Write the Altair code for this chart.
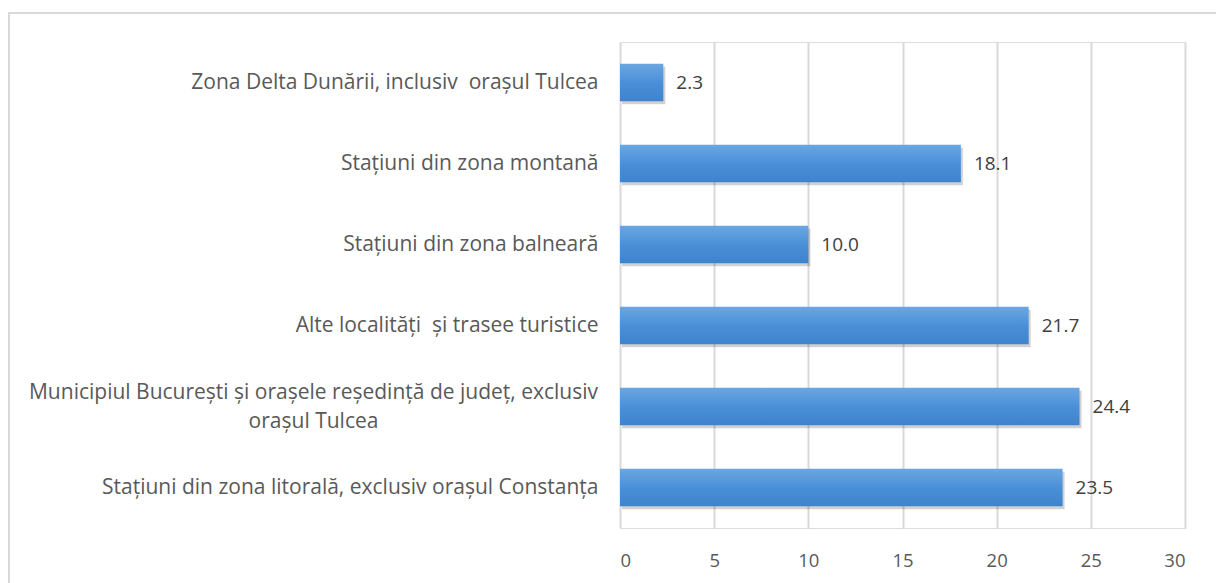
import altair as alt
import pandas as pd

categories = [
    "Zona Delta Dunării, inclusiv\u00a0 orașul Tulcea",
    "Stațiuni din zona montană",
    "Stațiuni din zona balneară",
    "Alte localități\u00a0 și trasee turistice",
    "Municipiul București și orașele reședință de județ, exclusiv|orașul Tulcea",
    "Stațiuni din zona litorală, exclusiv orașul Constanța",
]
values = [2.3, 18.1, 10.0, 21.7, 24.4, 23.5]
x_ticks = [0, 5, 10, 15, 20, 25, 30]

df = pd.DataFrame({"cat": categories, "val": values})
df["lbl"] = df["val"].map(lambda v: f"{v:.1f}")

FONT = "Open Sans"
W, H = 565, 486
MULTI = "indexof(datum.value, '|') >= 0"

y_enc = alt.Y("cat:N", sort=categories, title=None,
              scale=alt.Scale(paddingInner=0.54, paddingOuter=0.27),
              axis=alt.Axis(labelExpr="split(datum.label, '|')", labelFontSize=21,
                            labelColor="#595959", labelFont=FONT,
                            labelLimit=700, ticks=False, domain=False,
                            labelLineHeight=29,
                            labelAlign={"condition": {"test": MULTI, "value": "center"},
                                        "value": "right"},
                            labelPadding={"condition": {"test": MULTI, "value": 307},
                                          "value": 22},
                            labelOffset={"condition": {"test": MULTI, "value": -14},
                                         "value": 0}))
x_scale = alt.Scale(domain=[0, 30], nice=False)

base = alt.Chart(df)

frame = base.mark_rect(fill=None, stroke="#d9d9d9", strokeWidth=2).encode(
    x=alt.value(-611), x2=alt.value(640), y=alt.value(-29), y2=alt.value(580)
).transform_filter("datum.val == 2.3")

shadow = base.mark_bar(color="#000000", opacity=0.18, xOffset=2, yOffset=3).encode(
    x=alt.X("val:Q", scale=x_scale), y=y_enc
)

bars = base.mark_bar(
    color=alt.Gradient(gradient="linear", x1=0, x2=0, y1=0, y2=1,
                       stops=[alt.GradientStop(color="#6ba7e0", offset=0),
                              alt.GradientStop(color="#4a90d9", offset=0.5),
                              alt.GradientStop(color="#3e83cc", offset=1)])
).encode(
    x=alt.X("val:Q", scale=x_scale, title=None,
            axis=alt.Axis(values=x_ticks, labelFontSize=18.5, labelColor="#595959",
                          labelFont=FONT, grid=True, gridColor="#d9d9d9", gridWidth=2,
                          ticks=False, domain=False, labelPadding=23)),
    y=y_enc,
)

text = base.mark_text(align="left", dx=13, fontSize=19, font=FONT, color="#404040").encode(
    x=alt.X("val:Q", scale=x_scale), y=alt.Y("cat:N", sort=categories), text="lbl:N"
)

chart = alt.layer(frame, shadow, bars, text).properties(
    width=W, height=H,
    autosize=alt.AutoSizeParams(type="none"),
    padding={"left": 620, "top": 42, "right": 31, "bottom": 55},
).configure_view(stroke=None).configure(background="white")

chart.save("out.html", embed_options={"renderer": "svg", "actions": False})
